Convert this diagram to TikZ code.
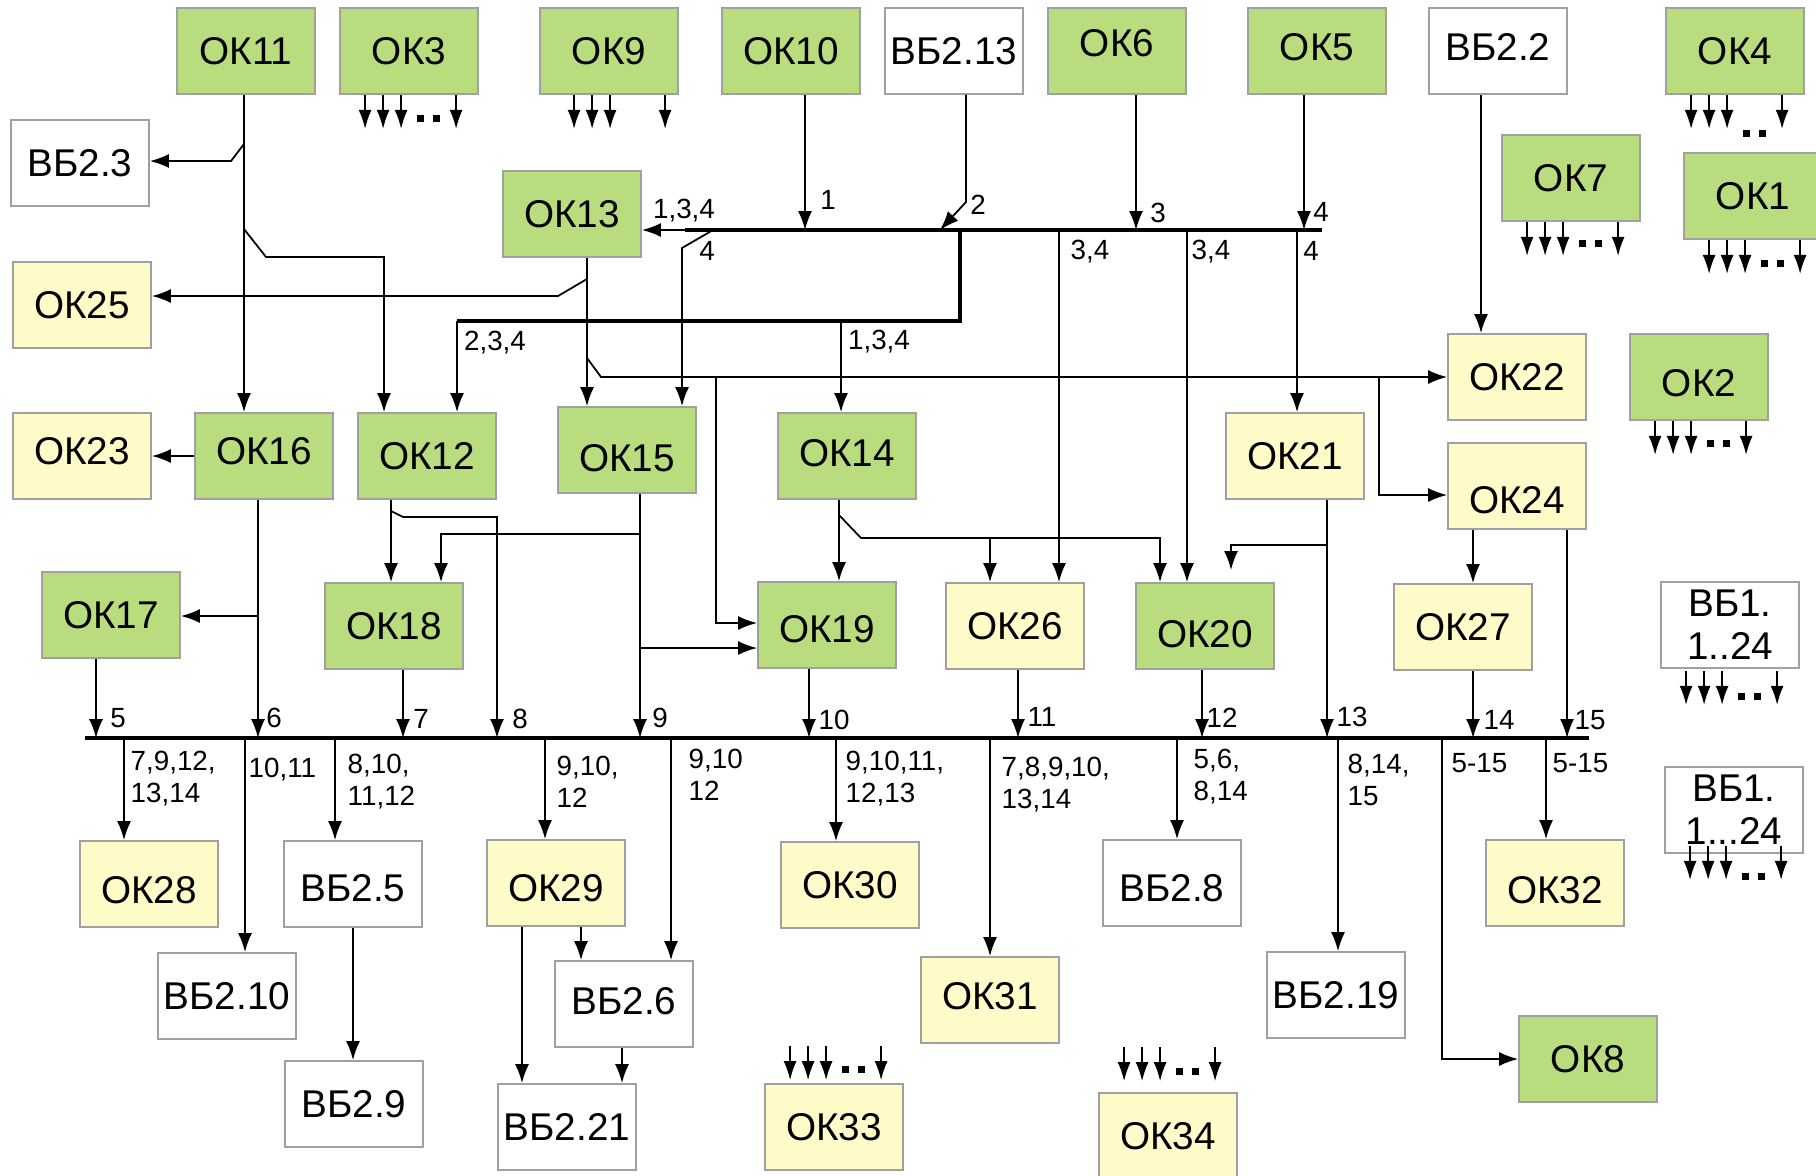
\documentclass[tikz,border=0pt]{standalone}
\usepackage{fontspec}
\setmainfont{Liberation Sans}
\usepackage{xcolor}
\usetikzlibrary{
    positioning,
    calc,
    arrows.meta
}
\definecolor{GreenBox}{HTML}{B8DC7E}
\definecolor{YellowBox}{HTML}{FFFBC8}
\definecolor{BoxBorder}{HTML}{A0A0A0}

\tikzset{
    box/.style={
        draw=BoxBorder,
        line width=0.5pt,
        minimum width=1.38cm,
        minimum height=0.86cm,
        inner sep=1pt,
        align=center,
        font=\fontsize{11}{12.2}\selectfont
    },
    gbox/.style={box, fill=GreenBox},
    ybox/.style={box, fill=YellowBox},
    wbox/.style={box, fill=white},
    txtdown/.style={text height=#1, text depth=0pt},
    txtup/.style={text height=0.28cm, text depth=#1},
    arr/.style={line width=0.5pt, -{Latex[length=1.9mm,width=1.4mm]}},
    fan/.style={line width=0.5pt, -{Latex[length=1.9mm,width=1.3mm]}},
    bus/.style={line width=1.3pt},
    lbl/.style={inner sep=0pt, align=left, font=\fontsize{7.9}{9.2}\selectfont}
}

\newcommand{\fanout}[3]{%
    \foreach \dx in {26,44,62,117}
        \draw[fan] ($(#1)+(\dx,#2)$) -- ++(0,34);
    \fill ($(#1)+(78,#3)$) rectangle ++(7,7);
    \fill ($(#1)+(94,#3)$) rectangle ++(7,7);
}

\begin{document}
\begin{tikzpicture}[x=0.01cm, y=-0.01cm]

    \path[use as bounding box, fill=white] (0,0) rectangle (1816,1175);

    \node[gbox] (ok11) at (246,51) {ОК11};
    \node[gbox] (ok3) at (409,51) {ОК3};
    \node[gbox] (ok9) at (609,51) {ОК9};
    \node[gbox] (ok10) at (791,51) {ОК10};
    \node[wbox] (vb213) at (954,51) {ВБ2.13};
    \node[gbox, txtup=0.18cm] (ok6) at (1117,51) {ОК6};
    \node[gbox, txtup=0.10cm] (ok5) at (1317,51) {ОК5};
    \node[wbox, txtup=0.10cm] (vb22) at (1498,51) {ВБ2.2};
    \node[gbox] (ok4) at (1735,51) {ОК4};
    \node[wbox] (vb23) at (80,163) {ВБ2.3};
    \node[gbox] (ok13) at (572,214) {ОК13};
    \node[gbox] (ok7) at (1571,178) {ОК7};
    \node[gbox] (ok1) at (1753,196) {ОК1};
    \node[ybox] (ok25) at (82,305) {ОК25};
    \node[ybox] (ok22) at (1517,377) {ОК22};
    \node[gbox, txtdown=0.39cm] (ok2) at (1699,377) {ОК2};
    \node[ybox, txtup=0.12cm] (ok23) at (82,456) {ОК23};
    \node[gbox, txtup=0.12cm] (ok16) at (264,456) {ОК16};
    \node[gbox] (ok12) at (427,456) {ОК12};
    \node[gbox, txtdown=0.43cm] (ok15) at (627,450) {ОК15};
    \node[gbox, txtup=0.08cm] (ok14) at (847,456) {ОК14};
    \node[ybox] (ok21) at (1295,456) {ОК21};
    \node[ybox, txtdown=0.55cm] (ok24) at (1517,486) {ОК24};
    \node[gbox] (ok17) at (111,615) {ОК17};
    \node[gbox] (ok18) at (394,626) {ОК18};
    \node[gbox, txtdown=0.35cm] (ok19) at (827,625) {ОК19};
    \node[ybox] (ok26) at (1015,626) {ОК26};
    \node[gbox, txtdown=0.43cm] (ok20) at (1205,626) {ОК20};
    \node[ybox] (ok27) at (1463,627) {ОК27};
    \node[wbox] (vb1a) at (1730,625) {ВБ1.\\1..24};
    \node[wbox] (vb1b) at (1734,810) {ВБ1.\\1...24};
    \node[ybox, txtdown=0.39cm] (ok28) at (149,884) {ОК28};
    \node[wbox, txtdown=0.35cm] (vb25) at (353,884) {ВБ2.5};
    \node[ybox, txtdown=0.37cm] (ok29) at (556,883) {ОК29};
    \node[ybox] (ok30) at (850,885) {ОК30};
    \node[wbox, txtdown=0.37cm] (vb28) at (1172,883) {ВБ2.8};
    \node[ybox, txtdown=0.41cm] (ok32) at (1555,883) {ОК32};
    \node[wbox] (vb210) at (227,996) {ВБ2.10};
    \node[wbox, txtup=0.08cm] (vb26) at (624,1004) {ВБ2.6};
    \node[ybox, txtup=0.10cm] (ok31) at (990,1000) {ОК31};
    \node[wbox] (vb219) at (1336,995) {ВБ2.19};
    \node[gbox] (ok8) at (1588,1059) {ОК8};
    \node[wbox] (vb29) at (354,1104) {ВБ2.9};
    \node[wbox] (vb221) at (567,1127) {ВБ2.21};
    \node[ybox] (ok33) at (834,1127) {ОК33};
    \node[ybox] (ok34) at (1168,1136) {ОК34};

    \coordinate (b1w) at (685,230);
    \coordinate (b1e) at (1322,230);
    \coordinate (b1c) at (960,230);
    \coordinate (b2c) at (960,321);
    \coordinate (b2w) at (457,321);
    \coordinate (mw) at (85,738);
    \coordinate (me) at (1589,738);

    \draw[bus] (b1w) -- (b1e);
    \draw[bus] (b1c) -- (b2c) -- (b2w);
    \draw[bus] (mw) -- (me);

    \coordinate (t1) at (805,230);
    \coordinate (t2) at (940,230);
    \coordinate (k2) at (966,202);
    \coordinate (t3) at (1136,230);
    \coordinate (t4) at (1304,230);
    \draw[arr] (ok10.south -| t1) -- (t1);
    \draw[arr] (vb213.south -| k2) -- (k2) -- (t2);
    \draw[arr] (ok6.south -| t3) -- (t3);
    \draw[arr] (ok5.south -| t4) -- (t4);

    \coordinate (s4a) at (713,230);
    \coordinate (s4b) at (682,248);
    \coordinate (d26) at (1059,230);
    \coordinate (d20) at (1187,230);
    \coordinate (d21) at (1297,230);
    \coordinate (d14) at (841,321);
    \draw[arr] (b1w) -- (b1w -| ok13.east);
    \draw[arr] (s4a) -- (s4b) -- (s4b |- ok15.north);
    \draw[arr] (d26) -- (d26 |- ok26.north);
    \draw[arr] (d20) -- (d20 |- ok20.north);
    \draw[arr] (d21) -- (d21 |- ok21.north);
    \draw[arr] (b2w) -- (b2w |- ok12.north);
    \draw[arr] (d14) -- (d14 |- ok14.north);

    \coordinate (k11a) at (244,144);
    \coordinate (k11b) at (231,161);
    \coordinate (k11c) at (244,229);
    \coordinate (k11d) at (266,257);
    \coordinate (k11e) at (384,257);
    \draw[arr] (ok11.south -| k11a) -- (k11a |- ok16.north);
    \draw[arr] (k11a) -- (k11b) -- (k11b -| vb23.east);
    \draw[arr] (k11c) -- (k11d) -- (k11e) -- (k11e |- ok12.north);

    \coordinate (k13a) at (587,279);
    \coordinate (k13b) at (558,296);
    \coordinate (k13c) at (587,358);
    \coordinate (k13d) at (601,377);
    \coordinate (k19a) at (716,377);
    \coordinate (k19b) at (716,623);
    \coordinate (k24a) at (1379,377);
    \coordinate (k24b) at (1379,495);
    \coordinate (k22) at (1481,377);
    \draw[arr] (ok13.south -| k13a) -- (k13a |- ok15.north);
    \draw[arr] (k13a) -- (k13b) -- (k13b -| ok25.east);
    \draw[arr] (k13c) -- (k13d) -- (k13d -| ok22.west);
    \draw[arr] (k19a) -- (k19b) -- (k19b -| ok19.west);
    \draw[arr] (k24a) -- (k24b) -- (k24b -| ok24.west);
    \draw[arr] (vb22.south -| k22) -- (k22 |- ok22.north);

    \coordinate (a5) at (96,738);
    \coordinate (a6) at (258,738);
    \coordinate (a7) at (403,738);
    \coordinate (a8) at (497,738);
    \coordinate (a9) at (640,738);
    \coordinate (a10) at (809,738);
    \coordinate (a11) at (1018,738);
    \coordinate (a12) at (1202,738);
    \coordinate (a13) at (1327,738);
    \coordinate (a14) at (1473,738);
    \coordinate (a15) at (1567,738);

    \coordinate (k17) at (258,616);
    \coordinate (k12a) at (391,511);
    \coordinate (k12b) at (403,517);
    \coordinate (k18) at (441,534);
    \coordinate (k19c) at (640,648);
    \coordinate (k14a) at (839,515);
    \coordinate (k14b) at (861,538);
    \coordinate (k14c) at (1160,538);
    \coordinate (k14d) at (990,538);
    \coordinate (k21a) at (1327,545);
    \coordinate (k21b) at (1231,545);
    \coordinate (k21c) at (1231,570);

    \draw[arr] (ok16.west) -- (ok23.east);
    \draw[arr] (ok16.south -| a6) -- (a6);
    \draw[arr] (k17) -- (k17 -| ok17.east);
    \draw[arr] (ok17.south -| a5) -- (a5);
    \draw[arr] (ok12.south -| k12a) -- (k12a |- ok18.north);
    \draw[arr] (k12a) -- (k12b) -- (k12b -| a8) -- (a8);
    \draw[arr] (ok18.south -| a7) -- (a7);
    \draw[arr] (ok15.south -| a9) -- (a9);
    \draw[arr] (k18 -| a9) -- (k18) -- (k18 |- ok18.north);
    \draw[arr] (k19c) -- (k19c -| ok19.west);
    \draw[arr] (ok14.south -| k14a) -- (k14a |- ok19.north);
    \draw[arr] (k14a) -- (k14b) -- (k14c) -- (k14c |- ok20.north);
    \draw[arr] (k14d) -- (k14d |- ok26.north);
    \draw[arr] (ok19.south -| a10) -- (a10);
    \draw[arr] (ok26.south -| a11) -- (a11);
    \draw[arr] (ok20.south -| a12) -- (a12);
    \draw[arr] (ok21.south -| a13) -- (a13);
    \draw[arr] (k21a) -- (k21b) -- (k21c);
    \draw[arr] (ok24.south -| a14) -- (ok27.north -| a14);
    \draw[arr] (ok27.south -| a14) -- (a14);
    \draw[arr] (ok24.south -| a15) -- (a15);

    \coordinate (m1) at (124,738);
    \coordinate (m2) at (245,738);
    \coordinate (m3) at (335,738);
    \coordinate (m4) at (545,738);
    \coordinate (m5) at (671,738);
    \coordinate (m6) at (836,738);
    \coordinate (m7) at (990,738);
    \coordinate (m8) at (1177,738);
    \coordinate (m9) at (1338,738);
    \coordinate (m10) at (1442,738);
    \coordinate (m11) at (1546,738);
    \draw[arr] (m1) -- (m1 |- ok28.north);
    \draw[arr] (m2) -- (m2 |- vb210.north);
    \draw[arr] (m3) -- (m3 |- vb25.north);
    \draw[arr] (m4) -- (m4 |- ok29.north);
    \draw[arr] (m5) -- (m5 |- vb26.north);
    \draw[arr] (m6) -- (m6 |- ok30.north);
    \draw[arr] (m7) -- (m7 |- ok31.north);
    \draw[arr] (m8) -- (m8 |- vb28.north);
    \draw[arr] (m9) -- (m9 |- vb219.north);
    \draw[arr] (m10) -- (m10 |- ok8.west) -- (ok8.west);
    \draw[arr] (m11) -- (m11 |- ok32.north);

    \coordinate (x29a) at (522,926);
    \coordinate (x29b) at (581,926);
    \coordinate (x26) at (622,1047);
    \draw[arr] (vb25.south) -- (vb25.south |- vb29.north);
    \draw[arr] (ok29.south -| x29a) -- (x29a |- vb221.north);
    \draw[arr] (ok29.south -| x29b) -- (x29b |- vb26.north);
    \draw[arr] (vb26.south -| x26) -- (x26 |- vb221.north);

    \fanout{ok3.south west}{0}{20}
    \foreach \dx in {35,53,71,126}
        \draw[fan] ($(ok9.south west)+(\dx,0)$) -- ++(0,34);
    \fanout{ok4.south west}{0}{35}
    \fanout{ok7.south west}{0}{18}
    \fanout{ok1.south west}{0}{20}
    \fanout{ok2.south west}{0}{19}
    \fanout{vb1a.south west}{2}{24}
    \fanout{vb1b.south west}{-8}{19}
    \fanout{ok33.north west}{-37}{-17}
    \fanout{ok34.north west}{-45}{-24}

    \node[lbl] (lb1) at (828,200) {1};
    \node[lbl] (lb2) at (978,205) {2};
    \node[lbl] (lb3) at (1158,213) {3};
    \node[lbl] (lb4) at (1321,212) {4};
    \node[lbl] (lb134a) at (684,211) {1,3,4};
    \node[lbl] (lb4a) at (707,251) {4};
    \node[lbl] (lb34a) at (1090,252) {3,4};
    \node[lbl] (lb34b) at (1211,252) {3,4};
    \node[lbl] (lb4b) at (1311,251) {4};
    \node[lbl] (lb234) at (495,343) {2,3,4};
    \node[lbl] (lb134b) at (879,342) {1,3,4};

    \node[lbl] (lb5) at (118,718) {5};
    \node[lbl] (lb6) at (274,718) {6};
    \node[lbl] (lb7) at (421,719) {7};
    \node[lbl] (lb8) at (520,719) {8};
    \node[lbl] (lb9) at (660,718) {9};
    \node[lbl] (lb10) at (834,720) {10};
    \node[lbl] (lb11) at (1042,717) {11};
    \node[lbl] (lb12) at (1222,718) {12};
    \node[lbl] (lb13) at (1352,717) {13};
    \node[lbl] (lb14) at (1499,720) {14};
    \node[lbl] (lb15) at (1590,720) {15};

    \node[lbl, anchor=north west] (lm1) at (130,750) {7,9,12,\\13,14};
    \node[lbl, anchor=north west] (lm2) at (248,757) {10,11};
    \node[lbl, anchor=north west] (lm3) at (347,753) {8,10,\\11,12};
    \node[lbl, anchor=north west] (lm4) at (556,755) {9,10,\\12};
    \node[lbl, anchor=north west] (lm5) at (688,748) {9,10\\12};
    \node[lbl, anchor=north west] (lm6) at (845,750) {9,10,11,\\12,13};
    \node[lbl, anchor=north west] (lm7) at (1001,756) {7,8,9,10,\\13,14};
    \node[lbl, anchor=north west] (lm8) at (1193,748) {5,6,\\8,14};
    \node[lbl, anchor=north west] (lm9) at (1347,753) {8,14,\\15};
    \node[lbl, anchor=north west] (lm10) at (1451,753) {5-15};
    \node[lbl, anchor=north west] (lm11) at (1552,753) {5-15};

\end{tikzpicture}
\end{document}
